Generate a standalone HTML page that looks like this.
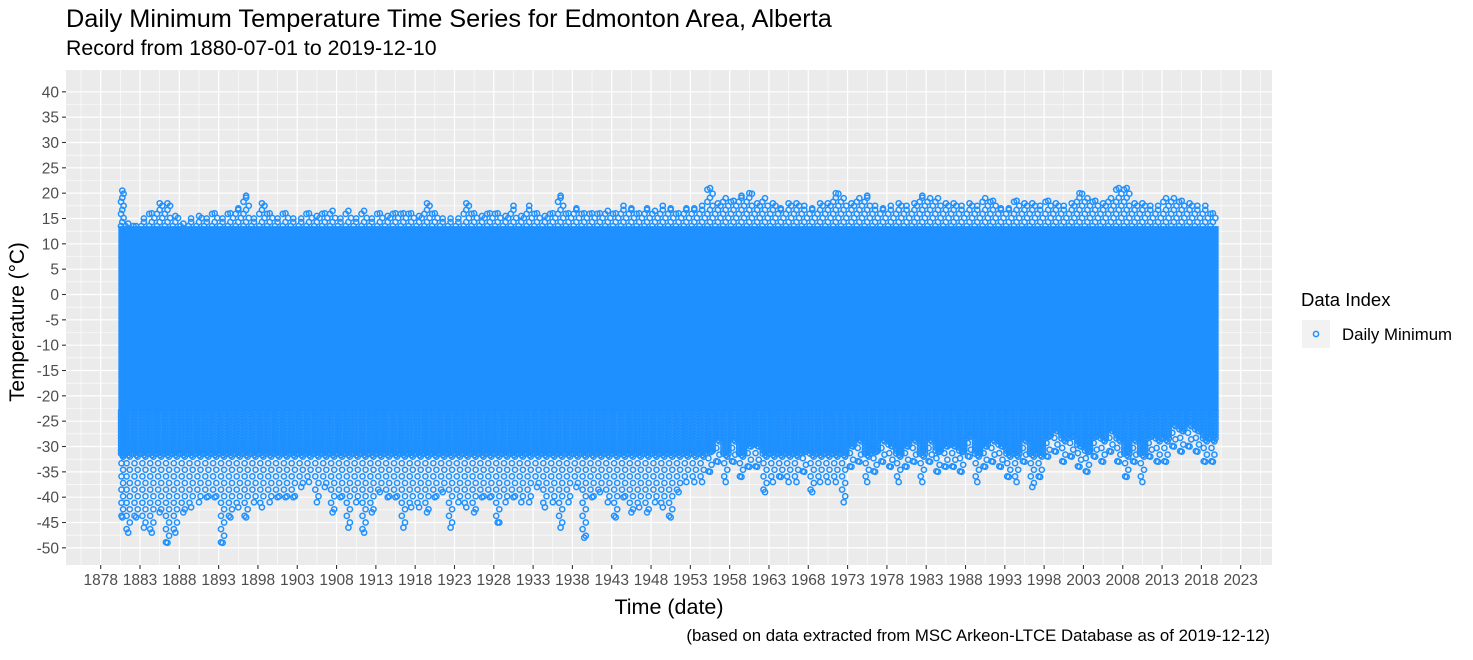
<!DOCTYPE html>
<html><head><meta charset="utf-8">
<style>
body{margin:0;background:#fff;font-family:"Liberation Sans",sans-serif;}
svg text{font-family:"Liberation Sans",sans-serif;}
</style></head>
<body>
<svg id="chart" width="1473" height="655" viewBox="0 0 1473 655" xmlns="http://www.w3.org/2000/svg">
<rect x="0" y="0" width="1473" height="655" fill="#fff"/>
<text x="66" y="27" font-size="25.3" fill="#000">Daily Minimum Temperature Time Series for Edmonton Area, Alberta</text>
<text x="66" y="55" font-size="21.3" fill="#000">Record from 1880-07-01 to 2019-12-10</text>
<rect x="66" y="70" width="1206" height="495" fill="#ebebeb"/>
<g id="grid"></g>
<g id="marks"></g>
<g id="axes"></g>
<text x="669" y="614" font-size="21.5" text-anchor="middle" fill="#000">Time (date)</text>
<text transform="translate(24,322) rotate(-90)" font-size="20.8" text-anchor="middle" fill="#000">Temperature (°C)</text>
<text x="1270" y="641" font-size="16.8" text-anchor="end" fill="#000">(based on data extracted from MSC Arkeon-LTCE Database as of 2019-12-12)</text>
<g>
<text x="1301" y="306" font-size="18.5" fill="#000">Data Index</text>
<rect x="1302" y="320" width="28" height="28" fill="#f2f2f2"/>
<circle cx="1316" cy="334" r="2.6" fill="none" stroke="#1E90FF" stroke-width="1.5"/>
<text x="1342" y="340" font-size="16.8" fill="#000">Daily Minimum</text>
</g>
</svg>
<script>
const yTicks = [40,35,30,25,20,15,10,5,0,-5,-10,-15,-20,-25,-30,-35,-40,-45,-50];
const xTicks = [1878,1883,1888,1893,1898,1903,1908,1913,1918,1923,1928,1933,1938,1943,1948,1953,1958,1963,1968,1973,1978,1983,1988,1993,1998,2003,2008,2013,2018,2023];
const firstYear = 1880;
const startDate = 1880.5;
const endDate = 2019.94;
const yearMax = [20.5,14,13.5,15,16,18,18,15.5,14,15,
15.5,15,16,15,16,17,19.5,15,18,16,
15,16,15,15,16,15.5,16,16.5,15,16.5,
15,16.5,15,16,15.5,16,16,16,15.5,18,
16,15,15,15,18,16,15.5,16,16,15.5,
17.5,15.5,17.5,16,15.5,16,19.5,16,17,16,
16,16,16.5,16,17.5,17,16,17,16.5,17.5,
17,16,17,17,17.5,21,18,19,18.5,19.5,
20,18,19,18,17,18,18,17.5,17,18,
18,20,19,18,19,19.5,17.5,17,17.5,18,
17.5,18,19.5,19,19,18,18,17.5,18,17.5,
19,18.5,17,17,18.5,18,18,17.5,18.5,18,
17.5,18,20,19,18.5,18,19,21,21,18,
18,17.5,17.5,19,19,18.5,18,17.5,17.5,16];
const yearMin = [-44,-47,-44,-46,-47,-43,-49,-47,-43,-42,
-41,-40,-40,-49,-44,-42,-44,-41,-42,-41,
-40,-40,-40,-38,-37,-41,-38,-43,-40,-46,
-41,-47,-43,-39,-40,-40,-46,-42,-42,-43,
-40,-39,-46,-41,-42,-43,-40,-40,-45,-41,
-40,-41,-41,-38,-42,-41,-46,-41,-38,-48,
-40,-39,-41,-44,-40,-43,-42,-43,-41,-42,
-44,-39,-37,-37,-37,-35,-33,-37,-33,-36,
-34,-34,-39,-37,-36,-37,-37,-35,-39,-37,
-37,-37,-41,-34,-33,-37,-35,-33,-34,-37,
-34,-33,-37,-33,-35,-34,-34,-35,-32,-37,
-34,-33,-34,-36,-37,-33,-38,-36,-32,-31,
-33,-32,-34,-35,-32,-33,-31,-33,-36,-33,
-37,-32,-33,-33,-30,-31,-30,-31,-33,-33];
const coreHi = [13.5];
const coreLo = [-23];

const NS = "http://www.w3.org/2000/svg";
const BLUE = "#1E90FF";
function xScale(yr){ return 100.7 + (yr - 1878) * 7.862; }
function yScale(v){ return 294.5 - v * 5.067; }
function mk(tag, attrs, parent){
  const e = document.createElementNS(NS, tag);
  for (const k in attrs) e.setAttribute(k, attrs[k]);
  parent.appendChild(e);
  return e;
}
const grid = document.getElementById('grid');
const marks = document.getElementById('marks');
const axes = document.getElementById('axes');
for (let i = 0; i < yTicks.length - 1; i++) {
  const v = (yTicks[i] + yTicks[i+1]) / 2;
  const l = mk('line', {x1:66, x2:1272, y1:yScale(v), y2:yScale(v), stroke:'#fff', 'stroke-width':0.6}, grid);
  
  
}
for (let i = -1; i < xTicks.length; i++) {
  const v = i < 0 ? xTicks[0] - 2.5 : xTicks[i] + 2.5;
  const xx = xScale(v);
  if (xx < 66 || xx > 1272) continue;
  const l = mk('line', {x1:xx, x2:xx, y1:70, y2:565, stroke:'#fff', 'stroke-width':0.6}, grid);
  
  
}
yTicks.forEach(v => {
  const y = yScale(v);
  const l = mk('line', {x1:66, x2:1272, y1:y, y2:y, stroke:'#fff', 'stroke-width':1.2}, grid);
  
  
  const t = mk('line', {x1:62, x2:66, y1:y, y2:y, stroke:'#333', 'stroke-width':1.1}, axes);
  
  
  const tx = mk('text', {x:59, y:y+5.5, 'font-size':15.5, 'text-anchor':'end', fill:'#4d4d4d'}, axes);
  tx.textContent = v;
  
  
});
xTicks.forEach(v => {
  const x = xScale(v);
  const l = mk('line', {x1:x, x2:x, y1:70, y2:565, stroke:'#fff', 'stroke-width':1.2}, grid);
  
  
  const t = mk('line', {x1:x, x2:x, y1:565, y2:569, stroke:'#333', 'stroke-width':1.1}, axes);
  
  
  const tx = mk('text', {x:x, y:585, 'font-size':15.5, 'text-anchor':'middle', fill:'#4d4d4d'}, axes);
  tx.textContent = v;
  
  
});
const band = mk('rect', {x:xScale(startDate)-2, y:yScale(coreHi[0]), width:xScale(endDate)-xScale(startDate)+4, height:yScale(coreLo[0])-yScale(coreHi[0]), fill:BLUE}, marks);


function pt(x, v){
  const c = mk('circle', {cx:x.toFixed(1), cy:yScale(v).toFixed(1), r:2.6, fill:'none', stroke:BLUE, 'stroke-width':1.5}, marks);
  
  
}
yearMax.forEach((mx, i) => {
  const yr = firstYear + i;
  const mn = yearMin[i];
  const x0 = Math.max(xScale(yr), xScale(startDate));
  const x1 = Math.min(xScale(yr + 1), xScale(endDate));
  const w = x1 - x0;
  let k = 0;
  for (let v = coreHi[0]; v <= mx; v += 0.8, k++) pt(x0 + w * ((k % 3) + 0.5) / 3, v);
  pt(x0 + w * 0.5, mx);
  // dense-ish lower zone
  const deep = Math.max(mn + 4, -32);
  for (let v = coreLo[0]; v >= deep; v -= 0.6) {
    pt(x0 + w * 0.2, v); pt(x0 + w * 0.55, v - 0.3); pt(x0 + w * 0.85, v);
  }
  k = 0;
  for (let v = deep; v >= mn; v -= 1.3, k++) pt(x0 + w * ((k % 2) ? 0.3 : 0.7), v);
  pt(x0 + w * 0.5, mn);
});
</script>
</body></html>
